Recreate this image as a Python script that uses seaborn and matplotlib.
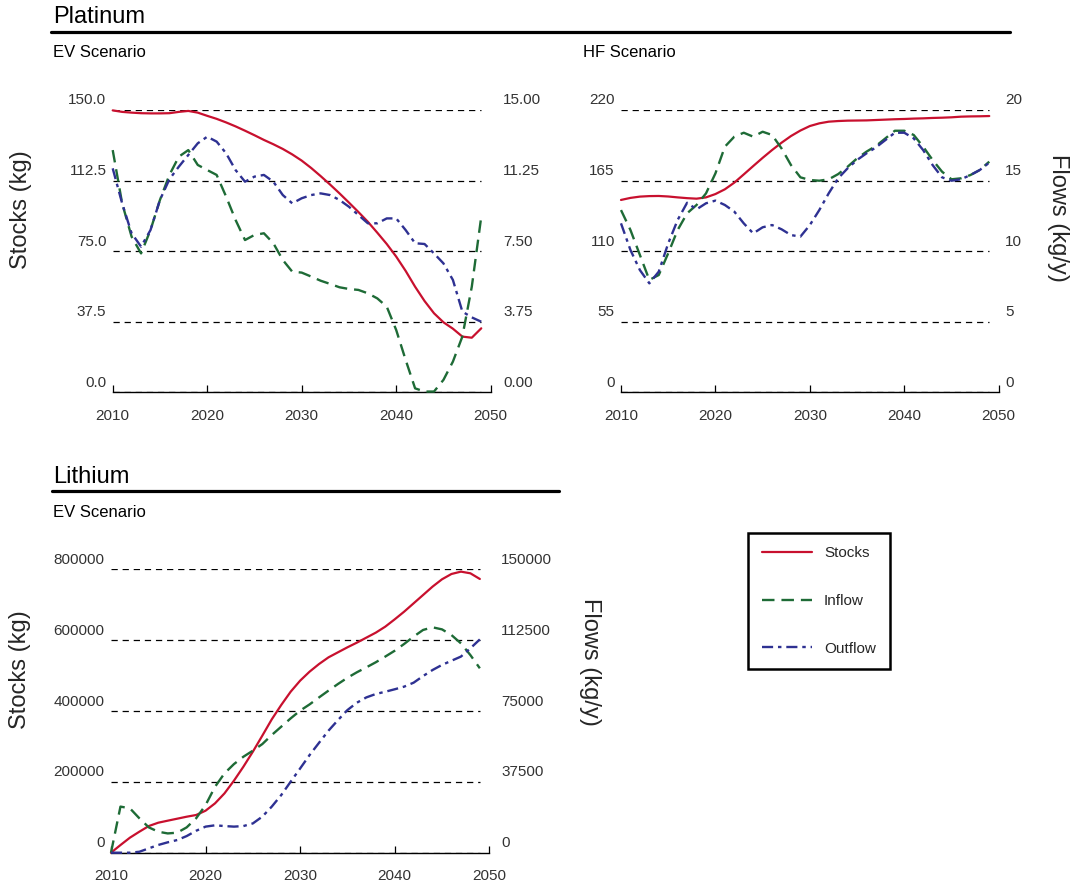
import numpy as np
import pandas as pd
import seaborn as sns
import matplotlib.pyplot as plt
from matplotlib.lines import Line2D
from matplotlib.transforms import ScaledTranslation

# data
years = list(range(2010, 2050))
x_ticks = [2010, 2020, 2030, 2040, 2050]
x_tick_labels = ['2010', '2020', '2030', '2040', '2050']

pt_ev_stocks = [149.8, 149.0, 148.6, 148.3, 148.2, 148.2, 148.3, 149.0, 149.5, 148.6,
                146.9, 145.3, 143.4, 141.3, 139.0, 136.6, 134.1, 131.8, 129.3, 126.4,
                123.1, 119.2, 114.9, 110.4, 105.7, 100.8, 95.8, 90.6, 84.8, 78.8,
                72.1, 64.5, 56.1, 48.5, 42.0, 37.2, 33.8, 29.6, 29.0, 34.0]
pt_ev_inflow = [12.87, 10.04, 8.27, 7.38, 8.62, 10.22, 11.55, 12.52, 12.87, 12.08,
                11.81, 11.55, 10.40, 9.16, 8.09, 8.36, 8.45, 7.92, 7.03, 6.41,
                6.36, 6.15, 5.93, 5.76, 5.58, 5.49, 5.44, 5.26, 4.99, 4.55,
                3.31, 1.72, 0.21, 0.04, 0.04, 0.66, 1.63, 2.96, 5.61, 9.33]
pt_ev_outflow = [11.90, 10.04, 8.45, 7.74, 8.62, 10.22, 11.32, 11.99, 12.61, 13.23,
                 13.58, 13.32, 12.70, 11.81, 11.19, 11.46, 11.55, 11.19, 10.48, 10.04,
                 10.31, 10.48, 10.57, 10.48, 10.22, 9.86, 9.42, 8.98, 8.98, 9.24,
                 9.24, 8.62, 7.92, 7.88, 7.38, 6.85, 5.97, 4.29, 3.98, 3.75]

pt_hf_stocks = [149.9, 151.5, 152.5, 152.9, 153.0, 152.6, 151.9, 151.3, 150.9, 151.9,
                154.5, 158.2, 163.4, 169.8, 176.3, 182.7, 188.8, 194.5, 199.7, 204.0,
                207.5, 209.6, 210.9, 211.4, 211.7, 211.8, 211.9, 212.2, 212.5, 212.8,
                213.0, 213.3, 213.5, 213.8, 214.0, 214.3, 214.8, 215.0, 215.1, 215.3]
pt_hf_inflow = [12.91, 11.50, 9.73, 7.96, 8.31, 9.85, 11.50, 12.68, 13.27, 14.09,
                15.51, 17.40, 18.11, 18.39, 18.11, 18.46, 18.23, 17.28, 16.10, 15.23,
                15.04, 14.99, 15.09, 15.46, 15.98, 16.57, 17.05, 17.45, 17.99, 18.53,
                18.53, 18.23, 17.40, 16.46, 15.63, 15.09, 15.16, 15.39, 15.75, 16.34]
pt_hf_outflow = [11.97, 10.08, 8.66, 7.72, 8.55, 10.55, 12.21, 13.43, 12.96, 13.39,
                 13.58, 13.27, 12.80, 11.97, 11.26, 11.69, 11.85, 11.55, 11.14, 11.03,
                 11.85, 12.91, 14.10, 15.16, 15.87, 16.46, 16.93, 17.35, 17.87, 18.39,
                 18.39, 17.99, 17.16, 16.10, 15.23, 14.99, 15.09, 15.39, 15.75, 16.27]

li_ev_stocks = [0, 21600, 42400, 59300, 75300, 84700, 90400, 96000, 101600, 106400,
                118600, 139300, 167500, 203300, 242800, 285200, 330400, 376500, 417000, 454600,
                485700, 511100, 532700, 551500, 565700, 579800, 593000, 607100, 621200, 638100,
                658800, 680500, 704000, 727500, 751100, 771800, 786800, 793400, 788700, 772700]
li_ev_inflow = [0, 24400, 23500, 18200, 13400, 11100, 10200, 10600, 13400, 18200,
                25200, 34900, 42000, 46900, 50800, 54000, 57500, 62300, 66700, 71100,
                75200, 78500, 82200, 85800, 89300, 92600, 95500, 98100, 100800, 103800,
                106900, 110500, 114400, 117900, 119300, 118200, 115200, 110800, 104600, 97600]
li_ev_outflow = [0, 0, 0, 500, 2300, 4100, 5500, 6700, 8800, 11600,
                 13800, 14500, 14100, 13800, 14100, 15500, 19100, 24400, 30500, 37600,
                 44600, 51700, 58200, 64600, 70200, 75500, 79400, 82200, 84000, 85200,
                 86500, 87900, 90000, 93500, 96700, 99400, 101600, 103800, 108200, 112900]

pt_ev_left_ticks = [0, 37.5, 75, 112.5, 150]
pt_ev_left_labels = ['0.0', '37.5', '75.0', '112.5', '150.0']
pt_ev_right_ticks = [0, 3.75, 7.5, 11.25, 15]
pt_ev_right_labels = ['0.00', '3.75', '7.50', '11.25', '15.00']
pt_hf_left_ticks = [0, 55, 110, 165, 220]
pt_hf_left_labels = ['0', '55', '110', '165', '220']
pt_hf_right_ticks = [0, 5, 10, 15, 20]
pt_hf_right_labels = ['0', '5', '10', '15', '20']
li_ev_left_ticks = [0, 200000, 400000, 600000, 800000]
li_ev_left_labels = ['0', '200000', '400000', '600000', '800000']
li_ev_right_ticks = [0, 37500, 75000, 112500, 150000]
li_ev_right_labels = ['0', '37500', '75000', '112500', '150000']

series_names = ['Stocks', 'Inflow', 'Outflow']

# style
sns.set_theme(style="white")
plt.rcParams['font.family'] = ['Liberation Sans', 'DejaVu Sans']
plt.rcParams['lines.scale_dashes'] = False

RED = '#c8102e'
GREEN = '#1e6b36'
BLUE = '#2e3192'
IN_LS = (0, (9, 5))
OUT_LS = (0, (8, 3.5, 2.5, 3.5))
GRID_LS = (0, (4.5, 3.5))
LBL = '#333333'

W, H = 1074, 888
fig = plt.figure(figsize=(W / 100, H / 100), dpi=100)


def rect(x0, ytop, x1, ybot):
    return [x0 / W, 1 - ybot / H, (x1 - x0) / W, (ybot - ytop) / H]


def panel(pos, stocks, inflow, outflow, lticks, llabels, rticks, rlabels, rpad):
    ax = fig.add_axes(pos)
    ax2 = ax.twinx()
    ax.hlines(lticks, years[0], years[-1], colors='black', linewidth=0.9,
              linestyles=GRID_LS, zorder=0)
    sns.lineplot(x=years, y=stocks, ax=ax, color=RED, linewidth=1.6,
                 errorbar=None, legend=False)
    sns.lineplot(x=years, y=inflow, ax=ax2, color=GREEN, linewidth=1.7,
                 linestyle=IN_LS, errorbar=None, legend=False)
    sns.lineplot(x=years, y=outflow, ax=ax2, color=BLUE, linewidth=1.7,
                 linestyle=OUT_LS, errorbar=None, legend=False)

    ax.set_xlim(2010, 2050)
    ax.set_ylim(0, lticks[-1])
    ax2.set_ylim(0, rticks[-1])
    ax.set_xticks(x_ticks, x_tick_labels)
    ax.set_yticks(lticks, llabels)
    ax2.set_yticks(rticks, rlabels)
    ax.tick_params(axis='x', bottom=True, direction='in', length=5, width=0.9,
                   color='black', pad=12, labelsize=11, labelcolor=LBL)
    ax.tick_params(axis='y', left=False, length=0, pad=4.5, labelsize=11, labelcolor=LBL)
    ax2.tick_params(axis='y', right=False, length=0, pad=rpad, labelsize=11, labelcolor=LBL)
    for s in ['top', 'left', 'right']:
        ax.spines[s].set_visible(False)
    ax.spines['bottom'].set_color('black')
    ax.spines['bottom'].set_linewidth(1.0)
    for s in ax2.spines.values():
        s.set_visible(False)
    ax.set_xlabel('')
    ax.set_ylabel('')
    ax2.set_ylabel('')
    ax.patch.set_alpha(0)

    # tick labels sit a little above their dashed line
    off = ScaledTranslation(0, 11 / 100, fig.dpi_scale_trans)
    for lab in ax.get_yticklabels() + ax2.get_yticklabels():
        lab.set_transform(lab.get_transform() + off)
    for line in ax.lines + ax2.lines:
        line.set_clip_on(False)
    return ax.lines[0], ax2.lines[0], ax2.lines[1]


handles = panel(rect(112.7, 110, 490.7, 392.3), pt_ev_stocks, pt_ev_inflow, pt_ev_outflow,
                pt_ev_left_ticks, pt_ev_left_labels, pt_ev_right_ticks, pt_ev_right_labels, 9)
panel(rect(621, 110, 998.7, 392.3), pt_hf_stocks, pt_hf_inflow, pt_hf_outflow,
      pt_hf_left_ticks, pt_hf_left_labels, pt_hf_right_ticks, pt_hf_right_labels, 4.5)
panel(rect(111, 569.3, 489.3, 852.7), li_ev_stocks, li_ev_inflow, li_ev_outflow,
      li_ev_left_ticks, li_ev_left_labels, li_ev_right_ticks, li_ev_right_labels, 8.5)


def fx(px):
    return px / W


def fy(py):
    return 1 - py / H


# section headers
fig.text(fx(53), fy(23.3), 'Platinum', fontsize=17, va='baseline', color='black')
fig.add_artist(Line2D([fx(51), fx(1010)], [fy(32.3)] * 2, color='black', linewidth=2.3))
fig.text(fx(53.3), fy(56.7), 'EV Scenario', fontsize=12, va='baseline', color='black')
fig.text(fx(583.3), fy(56.7), 'HF Scenario', fontsize=12, va='baseline', color='black')

fig.text(fx(52.7), fy(483.3), 'Lithium', fontsize=17, va='baseline', color='black')
fig.add_artist(Line2D([fx(52), fx(559)], [fy(490.7)] * 2, color='black', linewidth=2.3))
fig.text(fx(53), fy(517.3), 'EV Scenario', fontsize=12, va='baseline', color='black')

# axis titles
fig.text(fx(21.5), fy(210), 'Stocks (kg)', fontsize=17, rotation=90, ha='center', va='center')
fig.text(fx(20), fy(670), 'Stocks (kg)', fontsize=17, rotation=90, ha='center', va='center')
fig.text(fx(1058), fy(218), 'Flows (kg/y)', fontsize=17, rotation=270, ha='center', va='center')
fig.text(fx(590), fy(662), 'Flows (kg/y)', fontsize=17, rotation=270, ha='center', va='center')

leg = fig.legend(handles, series_names, loc='upper left',
                 bbox_to_anchor=(fx(748.3), fy(532.7)), frameon=True, fancybox=False,
                 edgecolor='black', framealpha=1, fontsize=11, handlelength=3.3,
                 labelspacing=2.2, handletextpad=0.75, borderpad=0.9, borderaxespad=0)
leg.get_frame().set_linewidth(1.8)

fig.savefig('out.png', dpi=100)
